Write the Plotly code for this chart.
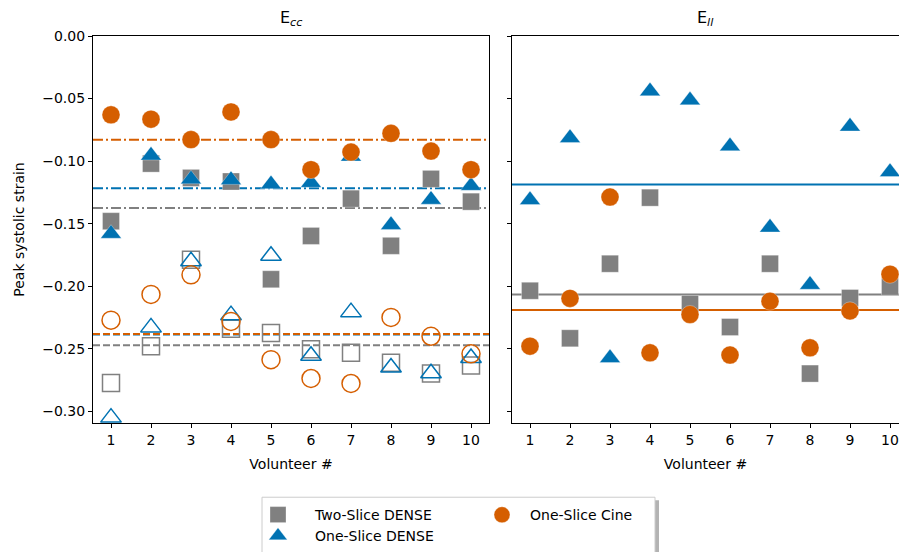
import plotly.graph_objects as go

volunteers = [1, 2, 3, 4, 5, 6, 7, 8, 9, 10]

# E_cc (left panel) - filled markers
ecc_two_dense = [-0.148, -0.102, -0.1134, -0.1163, -0.1944, -0.1598, -0.130, -0.1677, -0.1142, -0.1324]
ecc_one_dense = [-0.158, -0.0955, -0.1145, -0.115, -0.1184, -0.1173, -0.0963, -0.151, -0.1308, -0.1197]
ecc_one_cine = [-0.063, -0.0665, -0.0828, -0.0607, -0.0828, -0.1068, -0.0928, -0.0778, -0.092, -0.1068]
# E_cc (left panel) - open markers
ecc_two_dense_open = [-0.2774, -0.2479, -0.1788, -0.2339, -0.2373, -0.2503, -0.2532, -0.2611, -0.2698, -0.2634]
ecc_one_dense_open = [-0.305, -0.2329, -0.180, -0.2231, -0.1756, -0.2555, -0.2207, -0.265, -0.2695, -0.2574]
ecc_one_cine_open = [-0.2271, -0.2065, -0.1909, -0.2281, -0.2587, -0.2737, -0.2777, -0.2249, -0.240, -0.254]
# E_cc mean lines (dash-dot for filled, dashed for open)
ecc_means_filled = {"two": -0.1375, "one": -0.1217, "cine": -0.0830}
ecc_means_open = {"two": -0.2472, "one": -0.2385, "cine": -0.2382}

# E_ll (right panel)
ell_two_dense = [-0.2036, -0.2416, -0.182, -0.1292, -0.2141, -0.2326, -0.182, -0.2698, -0.2094, -0.2004]
ell_one_dense = [-0.1311, -0.0815, -0.2574, -0.0441, -0.0514, -0.0881, -0.153, -0.1988, -0.0723, -0.1087]
ell_one_cine = [-0.2479, -0.2097, -0.1287, -0.2532, -0.2226, -0.2550, -0.2120, -0.2492, -0.2197, -0.1904]
ell_means = {"two": -0.2065, "one": -0.1187, "cine": -0.2189}

names = {"two": "Two-Slice DENSE", "one": "One-Slice DENSE", "cine": "One-Slice Cine"}
colors = {"two": "#808080", "one": "#0072B2", "cine": "#D55E00"}
symbols = {"two": "square", "one": "triangle-up", "cine": "circle"}
sizes = {"two": 17, "one": 18, "cine": 18}

yticks = [0.0, -0.05, -0.10, -0.15, -0.20, -0.25, -0.30]

fig = go.Figure()

# mean lines (drawn first, under markers)
def hline(xaxis, yaxis, y, color, dash):
    fig.add_trace(go.Scatter(x=[0.55, 10.45], y=[y, y], mode="lines", xaxis=xaxis, yaxis=yaxis,
                             line=dict(color=color, width=2, dash=dash), showlegend=False, hoverinfo="skip"))

for k in ["two", "one", "cine"]:
    hline("x", "y", ecc_means_filled[k], colors[k], "10px,3px,2px,3px")
for k in ["two", "one", "cine"]:
    hline("x", "y", ecc_means_open[k], colors[k], "7px,3px")
for k in ["two", "one", "cine"]:
    hline("x2", "y2", ell_means[k], colors[k], "solid")

ecc_filled = {"two": ecc_two_dense, "one": ecc_one_dense, "cine": ecc_one_cine}
ecc_open = {"two": ecc_two_dense_open, "one": ecc_one_dense_open, "cine": ecc_one_cine_open}
ell = {"two": ell_two_dense, "one": ell_one_dense, "cine": ell_one_cine}

# open markers (left)
for k in ["two", "one", "cine"]:
    fig.add_trace(go.Scatter(x=volunteers, y=ecc_open[k], mode="markers", xaxis="x", yaxis="y",
                             marker=dict(symbol=symbols[k] + "-open", size=sizes[k], color=colors[k],
                                         line=dict(width=1.5, color=colors[k])),
                             showlegend=False))
# filled markers (left)
for k in ["two", "one", "cine"]:
    fig.add_trace(go.Scatter(x=volunteers, y=ecc_filled[k], mode="markers", xaxis="x", yaxis="y",
                             marker=dict(symbol=symbols[k], size=sizes[k], color=colors[k],
                                         line=dict(width=0.6, color="rgba(255,255,255,0.5)")),
                             showlegend=False))
# right panel markers (with legend)
legend_of = {"two": "legend", "one": "legend", "cine": "legend2"}
for k in ["two", "one", "cine"]:
    fig.add_trace(go.Scatter(x=volunteers, y=ell[k], mode="markers", xaxis="x2", yaxis="y2",
                             name=names[k], legend=legend_of[k],
                             marker=dict(symbol=symbols[k], size=sizes[k], color=colors[k],
                                         line=dict(width=0.6, color="rgba(255,255,255,0.5)")),
                             showlegend=True))

axis_common = dict(showgrid=False, zeroline=False, showline=True, linecolor="black", linewidth=1.1,
                   ticks="outside", ticklen=4, tickwidth=1.1, tickcolor="black", automargin=False,
                   tickfont=dict(family="DejaVu Sans", size=14, color="black"))

W, H = 899, 552
L, R, T, B = 93, 0, 36, 125
pw = W - L - R
ph = H - T - B

fig.update_layout(
    width=W, height=H,
    margin=dict(l=L, r=R, t=T, b=B),
    plot_bgcolor="white", paper_bgcolor="white",
    font=dict(family="DejaVu Sans", size=14, color="black"),
    xaxis=dict(domain=[0, 396 / pw], range=[0.55, 10.45], tickvals=volunteers, mirror=True,
               title=dict(text="Volunteer #", font=dict(size=14), standoff=12), **axis_common),
    yaxis=dict(range=[-0.3093, 0.0], tickvals=yticks, tickformat=".2f", mirror=True,
               title=dict(text="Peak systolic strain", font=dict(size=14), standoff=14), **axis_common),
    xaxis2=dict(domain=[(512 - L) / pw, 1], range=[0.55, 10.225], tickvals=volunteers, mirror=True,
                anchor="y2", title=dict(text="Volunteer #", font=dict(size=14), standoff=12), **axis_common),
    yaxis2=dict(range=[-0.3093, 0.0], tickvals=yticks, showticklabels=False, anchor="x2",
                matches="y", **axis_common),
    legend=dict(x=(241 - L) / pw, y=(H - B - 504) / ph, xanchor="left", yanchor="top",
                bgcolor="rgba(0,0,0,0)", font=dict(family="DejaVu Sans", size=14),
                orientation="v", itemwidth=64, tracegroupgap=0),
    legend2=dict(x=(474 - L) / pw, y=(H - B - 504) / ph, xanchor="left", yanchor="top",
                 bgcolor="rgba(0,0,0,0)", font=dict(family="DejaVu Sans", size=14),
                 orientation="v", itemwidth=46),
    annotations=[
        dict(text="E<sub><i>cc</i></sub>", x=0.5, y=1, xref="x domain", yref="y domain",
             yanchor="bottom", yshift=5, showarrow=False, font=dict(family="DejaVu Sans", size=16)),
        dict(text="E<sub><i>ll</i></sub>", x=(705 - 512) / 387, y=1, xref="x2 domain", yref="y2 domain",
             yanchor="bottom", yshift=5, showarrow=False, font=dict(family="DejaVu Sans", size=16)),
    ],
    shapes=[
        # legend shadow
        dict(type="rect", xref="paper", yref="paper",
             x0=(266 - L) / pw, x1=(659 - L) / pw, y0=(H - B - 505) / ph, y1=(H - B - 570) / ph,
             line=dict(width=0), fillcolor="rgba(128,128,128,0.6)", layer="below"),
        # legend frame
        dict(type="rect", xref="paper", yref="paper",
             x0=(262 - L) / pw, x1=(655 - L) / pw, y0=(H - B - 502) / ph, y1=(H - B - 570) / ph,
             line=dict(width=1, color="#cccccc"), fillcolor="white", layer="below"),
    ],
)

fig.write_html("out.html", config={"displayModeBar": False},
               post_script="document.body.style.margin='0';document.body.style.overflow='hidden';")
